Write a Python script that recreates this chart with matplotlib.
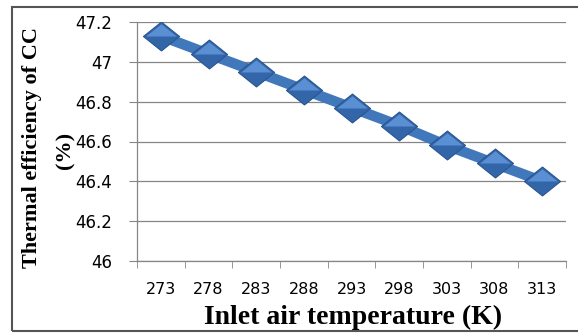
import numpy as np
import matplotlib
matplotlib.use("Agg")
import matplotlib.pyplot as plt
from matplotlib.patches import Rectangle

# data
temps = [273, 278, 283, 288, 293, 298, 303, 308, 313]
efficiency = [47.13, 47.04, 46.95, 46.86, 46.77, 46.68, 46.58, 46.49, 46.40]
yticks = [46, 46.2, 46.4, 46.6, 46.8, 47, 47.2]
ytick_labels = ['46', '46.2', '46.4', '46.6', '46.8', '47', '47.2']

fig = plt.figure(figsize=(5.78, 3.33), dpi=100)
ax = fig.add_axes([137/578, 1 - 261/333, (566 - 137)/578, (261 - 22)/333])

x = np.arange(len(temps))

# wide diamond marker, two-tone to mimic the bevel
diamond = [(-1, 0), (0, 0.8), (1, 0), (0, -0.8), (-1, 0)]
upper = [(-1, 0), (0, 0.8), (1, 0), (-1, 0)]

ax.plot(x, efficiency, color='#4178bb', lw=7.5, solid_capstyle='butt', zorder=3)
ax.plot(x, efficiency, ls='none', marker=diamond, ms=26, mfc='#3366a8',
        mec='#2a5690', mew=0.8, zorder=4)
ax.plot(x, efficiency, ls='none', marker=upper, ms=22, mfc='#5a8fd4',
        mec='none', zorder=5)

ax.set_xlim(-0.5, len(temps) - 0.5)
ax.set_ylim(46, 47.2)
ax.set_yticks(yticks)
ax.set_yticklabels(ytick_labels, fontfamily='DejaVu Sans', fontsize=12)
ax.set_xticks(x)
ax.set_xticklabels([str(t) for t in temps], fontfamily='DejaVu Sans', fontsize=11.5)
ax.set_xticks(np.arange(-0.5, len(temps)), minor=True)
ax.tick_params(axis='x', which='major', length=0, pad=15)
ax.tick_params(axis='x', which='minor', length=5, color='#868686', direction='out')
ax.tick_params(axis='y', length=6, color='#868686', pad=12)

ax.grid(axis='y', color='#868686', lw=0.9)
ax.set_axisbelow(True)
for s in ['top', 'right']:
    ax.spines[s].set_visible(False)
for s in ['left', 'bottom']:
    ax.spines[s].set_color('#868686')
    ax.spines[s].set_linewidth(0.9)

fig.text(32/578, 1 - 147/333, 'Thermal efficiency of CC', rotation=90,
         ha='center', va='center', fontfamily='Liberation Serif',
         fontweight='bold', fontsize=16)
fig.text(65/578, 1 - 150/333, '(%)', rotation=90,
         ha='center', va='center', fontfamily='Liberation Serif',
         fontweight='bold', fontsize=16)
fig.text(353/578, 1 - 317/333, 'Inlet air temperature (K)',
         ha='center', va='center', fontfamily='Liberation Serif',
         fontweight='bold', fontsize=20)

# chart border
fig.patches.append(Rectangle((12/578, 2/333), 1.0, 324/333,
                             transform=fig.transFigure, fill=False,
                             ec='#555555', lw=1.5))

fig.savefig('out.png', dpi=100)
